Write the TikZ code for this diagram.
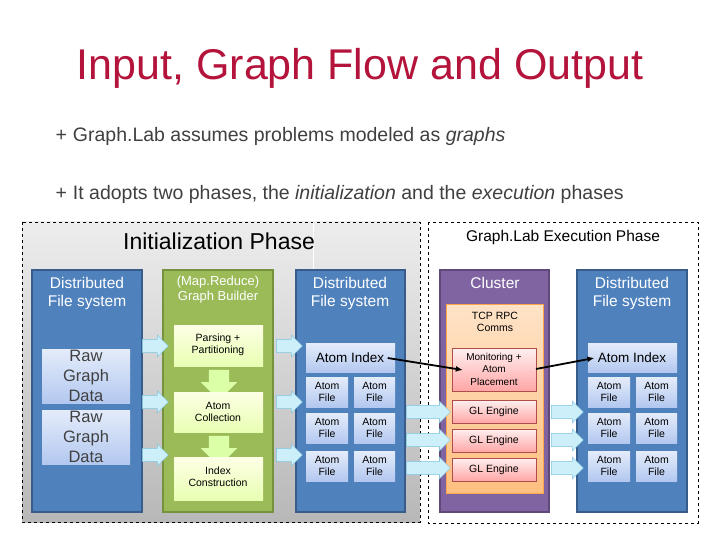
\documentclass[tikz,border=0pt]{standalone}
\usepackage{fontspec}
\setmainfont{Liberation Sans}
\usetikzlibrary{shapes.arrows,arrows.meta}
\definecolor{ttl}{HTML}{B4143C}
\definecolor{bodyt}{HTML}{404040}
\definecolor{dfs}{HTML}{4F81BD}
\definecolor{dfsb}{HTML}{385D8A}
\definecolor{grn}{HTML}{9BBB59}
\definecolor{grnb}{HTML}{76923C}
\definecolor{pur}{HTML}{8064A2}
\definecolor{purb}{HTML}{5F497A}
\definecolor{ltop}{HTML}{E4ECFA}
\definecolor{lbot}{HTML}{B3C8F0}
\definecolor{acy}{HTML}{CDEFFA}
\definecolor{acyb}{HTML}{7CC4DE}
\tikzset{
 col/.style={draw=dfsb,line width=2pt,fill=dfs},
 coltxt/.style={text=white,font=\fontsize{15.5}{18}\selectfont,align=center},
 lbox/.style={top color=ltop,bottom color=lbot,draw=none},
 gbox/.style={top color=green!8!yellow!10!white,bottom color=green!30!yellow!30!white,draw=none},
 rbox/.style={top color=red!6!white,bottom color=red!35!white,draw=red!55!black!70,line width=0.5pt},
 barrow/.style={single arrow,draw=acyb,fill=acy,minimum height=26pt,minimum width=22pt,single arrow head extend=4pt,inner xsep=0pt,inner ysep=6pt,anchor=center},
 darrow/.style={single arrow,shape border rotate=270,draw=none,fill=green!40!yellow!35!white,minimum height=27pt,minimum width=36pt,single arrow head extend=8pt,inner sep=10pt},
 sm/.style={font=\fontsize{10.5}{12}\selectfont,align=center},
}
\begin{document}
\begin{tikzpicture}[x=1pt,y=-1pt]
\useasboundingbox (0,0) rectangle (720,540);
\fill[white] (0,0) rectangle (720,540);
\node[text=ttl,font=\fontsize{43}{48}\selectfont] (title) at (360,68) {Input, Graph Flow and Output};
\node[anchor=west,text=bodyt,font=\fontsize{19.5}{22}\selectfont] (b1) at (52,136) {+\hspace{6pt}Graph.Lab assumes problems modeled as \textit{graphs}};
\node[anchor=west,text=bodyt,font=\fontsize{19.5}{22}\selectfont] (b2) at (52,194) {+\hspace{6pt}It adopts two phases, the \textit{initialization} and the \textit{execution} phases};
% init phase
\shade[top color=white!93!black,bottom color=white!72!black] (22,222) rectangle (420,522);
\draw[dashed,line width=0.6pt] (22,222) rectangle (420,522);
\draw[white,line width=0.8pt] (313,222) -- (313,270);
\node[font=\fontsize{23}{26}\selectfont] (ip) at (219,241) {Initialization Phase};
% exec phase
\draw[dashed,line width=0.6pt] (428,222) rectangle (698,523);
\node[font=\fontsize{15.5}{17}\selectfont] (ep) at (563,237) {Graph.Lab Execution Phase};
% left column
\draw[col] (32,270) rectangle (142,512);
\node[coltxt] (c1t) at (87,293) {Distributed\\File system};
\fill[lbox] (42,349) rectangle (130,403);
\node[font=\fontsize{16.5}{20}\selectfont,align=center,text=bodyt] (rg1) at (86,376) {Raw\\Graph\\Data};
\fill[lbox] (42,410) rectangle (130,464);
\node[font=\fontsize{16.5}{20}\selectfont,align=center,text=bodyt] (rg2) at (86,437) {Raw\\Graph\\Data};
% green column
\draw[draw=grnb,line width=2pt,fill=grn] (163,270) rectangle (273,512);
\node[text=white,font=\fontsize{13}{15}\selectfont,align=center] (gt) at (218,290) {(Map.Reduce)\\Graph Builder};
\node[darrow] (d1) at (219,380) {};
\node[darrow] (d2) at (219,446) {};
\fill[gbox] (174,325) rectangle (263,366);
\node[sm] (pp) at (218,345) {Parsing +\\Partitioning};
\fill[gbox] (174,392) rectangle (263,432);
\node[sm] (ac) at (218,412) {Atom\\Collection};
\fill[gbox] (174,457) rectangle (263,500);
\node[sm] (ic) at (218,477) {Index\\Construction};
% blue column 2
\draw[col] (296,270) rectangle (405,512);
\node[coltxt] (c2t) at (350,293) {Distributed\\File system};
\fill[lbox] (306,343) rectangle (395,372);
\node[font=\fontsize{13.5}{15}\selectfont] (ai1) at (350,358) {Atom Index};
\foreach \y/\n in {377/a,413/b,451/c}{
 \fill[lbox] (306,\y) rectangle (348,\y+30);
 \node[sm] (f1\n) at (327,\y+15) {Atom\\File};
 \fill[lbox] (354,\y) rectangle (395,\y+30);
 \node[sm] (g1\n) at (374.5,\y+15) {Atom\\File};
}
% cluster
\draw[draw=purb,line width=2pt,fill=pur] (440,270) rectangle (549,512);
\node[coltxt] (clt) at (495,283) {Cluster};
\shade[top color=orange!22!white,bottom color=orange!50!white] (446,304) rectangle (543,493);
\draw[orange!70!white,line width=0.5pt] (446,304) rectangle (543,493);
\node[sm] (tcp) at (495,322) {TCP RPC\\Comms};
\draw[rbox] (452,348) rectangle (536,391);
\node[font=\fontsize{10}{12.5}\selectfont,align=center] (mon) at (494,369) {Monitoring +\\Atom\\Placement};
\foreach \y/\n in {400/a,429/b,458/c}{
 \draw[rbox] (452,\y) rectangle (536,\y+23);
 \node[sm] (gl\n) at (494,\y+12) {GL Engine};
}
% blue column 3
\draw[col] (577,270) rectangle (687,512);
\node[coltxt] (c3t) at (632,293) {Distributed\\File system};
\fill[lbox] (588,343) rectangle (677,372);
\node[font=\fontsize{13.5}{15}\selectfont] (ai2) at (632,358) {Atom Index};
\foreach \y/\n in {377/a,413/b,451/c}{
 \fill[lbox] (588,\y) rectangle (630,\y+30);
 \node[sm] (f2\n) at (609,\y+15) {Atom\\File};
 \fill[lbox] (636,\y) rectangle (677,\y+30);
 \node[sm] (g2\n) at (656.5,\y+15) {Atom\\File};
}
% block arrows
\foreach \y/\n in {346/a,402/b,455/c}{
 \node[barrow] (la\n) at (152,\y) {};
 \node[barrow] (ma\n) at (286,\y) {};
}
\foreach \y/\n in {412/a,440/b,468/c}{
 \node[barrow,minimum height=44pt] (ra\n) at (425,\y) {};
 \node[barrow,minimum height=32pt] (sa\n) at (564,\y) {};
}
% black arrows
\draw[line width=1.8pt,-{Latex[length=7pt,width=6pt]}] (ai1.east) -- (mon.west |- 0,370) coordinate (m1);
\draw[line width=1.8pt,-{Latex[length=7pt,width=6pt]}] (536,369) -- (ai2.west);
\end{tikzpicture}
\end{document}
